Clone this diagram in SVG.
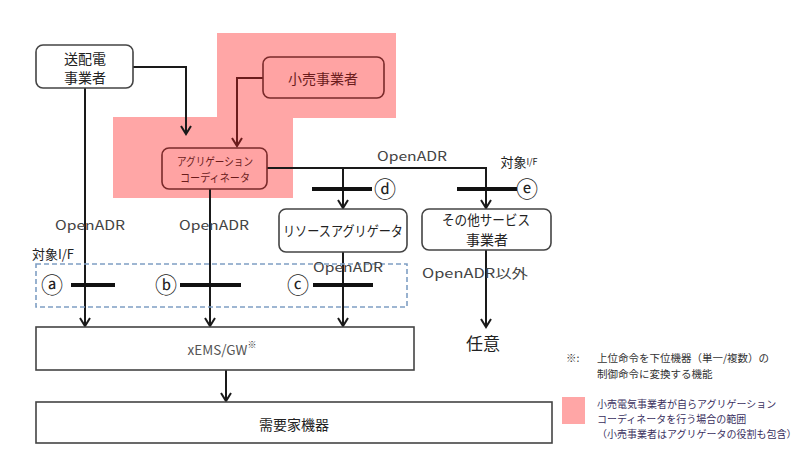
<svg xmlns="http://www.w3.org/2000/svg" width="805" height="474" viewBox="0 0 805 474">
<defs>
<style>
text{font-family:"Noto Sans CJK JP","Noto Sans",sans-serif;dominant-baseline:central;text-anchor:middle;}
.box{fill:#fff;stroke:#444;stroke-width:1.6;}
.pbox{fill:#ffa3a3;stroke:#7a2a2a;stroke-width:1.6;}
.nt{font-size:14px;fill:#222;}
.pt{fill:#6b1c1c;}
.lbl{font-size:13px;fill:#444;}
.ln{fill:none;stroke:#1a1a1a;stroke-width:2;}
.lr{fill:none;stroke:#6b1c1c;stroke-width:2;}
.bar{stroke:#111;stroke-width:4;}
.cir{font-size:22px;fill:#222;font-family:"DejaVu Sans","Noto Sans CJK JP",sans-serif;}
.leg{font-size:10.5px;text-anchor:start;fill:#333;}
.legp{font-size:10px;text-anchor:start;fill:#3a3060;}
</style>
<marker id="ah" viewBox="-1 -6 11 12" markerWidth="11" markerHeight="12" refX="8" refY="0" orient="auto" markerUnits="userSpaceOnUse">
<path d="M0,-5 L8,0 L0,5" fill="none" stroke="#1a1a1a" stroke-width="2"/>
</marker>
<marker id="ahr" viewBox="-1 -6 11 12" markerWidth="11" markerHeight="12" refX="8" refY="0" orient="auto" markerUnits="userSpaceOnUse">
<path d="M0,-5 L8,0 L0,5" fill="none" stroke="#6b1c1c" stroke-width="2"/>
</marker>
</defs>
<rect width="805" height="474" fill="#fff"/>
<g id="pink-area">
<rect x="217" y="33" width="179" height="85" fill="#ffa6a6"/>
<rect x="113" y="117" width="180" height="81" fill="#ffa6a6"/>
</g>
<g id="connectors">
<path class="ln" d="M133,67 H186 V134" marker-end="url(#ah)"/>
<path class="lr" d="M263,78 H237 V146" marker-end="url(#ahr)"/>
<path class="ln" d="M85,88 V326" marker-end="url(#ah)"/>
<path class="ln" d="M210,189 V326" marker-end="url(#ah)"/>
<path class="ln" d="M267,168 H486 V208" marker-end="url(#ah)"/>
<path class="ln" d="M343,168 V208" marker-end="url(#ah)"/>
<path class="ln" d="M343,252 V326" marker-end="url(#ah)"/>
<path class="ln" d="M486,250 V327" marker-end="url(#ah)"/>
<path class="ln" d="M226,370 V401" marker-end="url(#ah)"/>
</g>
<g id="if-box">
<rect x="36" y="264" width="371" height="43" fill="none" stroke="#7f9fc4" stroke-width="1.6" stroke-dasharray="5,3"/>
</g>
<g id="bars">
<line class="bar" x1="71" y1="285" x2="115" y2="285"/>
<line class="bar" x1="180" y1="285" x2="241" y2="285"/>
<line class="bar" x1="313" y1="285" x2="373" y2="285"/>
<line class="bar" x1="312" y1="189" x2="372" y2="189"/>
<line class="bar" x1="457" y1="189" x2="517" y2="189"/>
<text class="cir" x="52" y="285">ⓐ</text>
<text class="cir" x="166" y="285">ⓑ</text>
<text class="cir" x="298" y="285">ⓒ</text>
<text class="cir" x="385" y="189">ⓓ</text>
<text class="cir" x="527" y="189">ⓔ</text>
</g>
<g id="node-souhaiden">
<rect class="box" x="36" y="45" width="97" height="43" rx="7"/>
<text class="nt" x="85" y="58" font-size="13.5">送配電</text>
<text class="nt" x="85" y="77" font-size="13.5">事業者</text>
</g>
<g id="node-kouri">
<rect class="pbox" x="263" y="57" width="121" height="41" rx="7"/>
<text class="nt pt" x="323" y="78" font-size="15">小売事業者</text>
</g>
<g id="node-ac">
<rect class="pbox" x="162" y="148" width="105" height="41" rx="7"/>
<text class="pt" x="215" y="161" font-size="11.5" textLength="76" lengthAdjust="spacingAndGlyphs">アグリゲーション</text>
<text class="pt" x="215" y="177" font-size="11.5" textLength="70" lengthAdjust="spacingAndGlyphs">コーディネータ</text>
</g>
<g id="node-resource">
<rect class="box" x="279" y="209" width="128" height="43" rx="7"/>
<text class="nt" x="343" y="230" textLength="120" lengthAdjust="spacingAndGlyphs">リソースアグリゲータ</text>
</g>
<g id="node-other">
<rect class="box" x="422" y="209" width="129" height="41" rx="7"/>
<text class="nt" x="486" y="219" font-size="12.5" textLength="88" lengthAdjust="spacingAndGlyphs">その他サービス</text>
<text class="nt" x="487" y="239" font-size="13">事業者</text>
</g>
<g id="node-xems">
<rect class="box" x="36" y="327" width="378" height="43"/>
<text x="222" y="349" font-size="13.5" fill="#555">xEMS/GW<tspan font-size="9" dy="-5" fill="#333">※</tspan></text>
</g>
<g id="node-juyouka">
<rect class="box" x="36" y="402" width="516" height="41"/>
<text class="nt" x="294" y="424" font-size="15">需要家機器</text>
</g>
<g id="node-nin-i">
<text x="483" y="342" font-size="17" fill="#222">任意</text>
</g>
<g id="labels">
<text class="lbl" x="90" y="224" textLength="70" lengthAdjust="spacingAndGlyphs">OpenADR</text>
<text class="lbl" x="214" y="224" textLength="70" lengthAdjust="spacingAndGlyphs">OpenADR</text>
<text class="lbl" x="348" y="266" textLength="70" lengthAdjust="spacingAndGlyphs">OpenADR</text>
<text class="lbl" x="412" y="155" textLength="70" lengthAdjust="spacingAndGlyphs">OpenADR</text>
<text class="lbl" x="475" y="272" textLength="106" lengthAdjust="spacingAndGlyphs">OpenADR以外</text>
<text x="53" y="253" font-size="13" fill="#222">対象I/F</text>
<text x="519" y="161" font-size="13" fill="#222">対象<tspan font-size="9">I/F</tspan></text>
</g>
<g id="legend">
<text class="leg" x="566" y="357">※:</text>
<text class="leg" x="597" y="357">上位命令を下位機器（単一/複数）の</text>
<text class="leg" x="597" y="373">制御命令に変換する機能</text>
<rect x="562" y="397" width="23" height="27" fill="#ffa6a6"/>
<text class="legp" x="597" y="403">小売電気事業者が自らアグリゲーション</text>
<text class="legp" x="597" y="418">コーディネータを行う場合の範囲</text>
<text class="legp" x="597" y="433">（小売事業者はアグリゲータの役割も包含）</text>
</g>
</svg>
